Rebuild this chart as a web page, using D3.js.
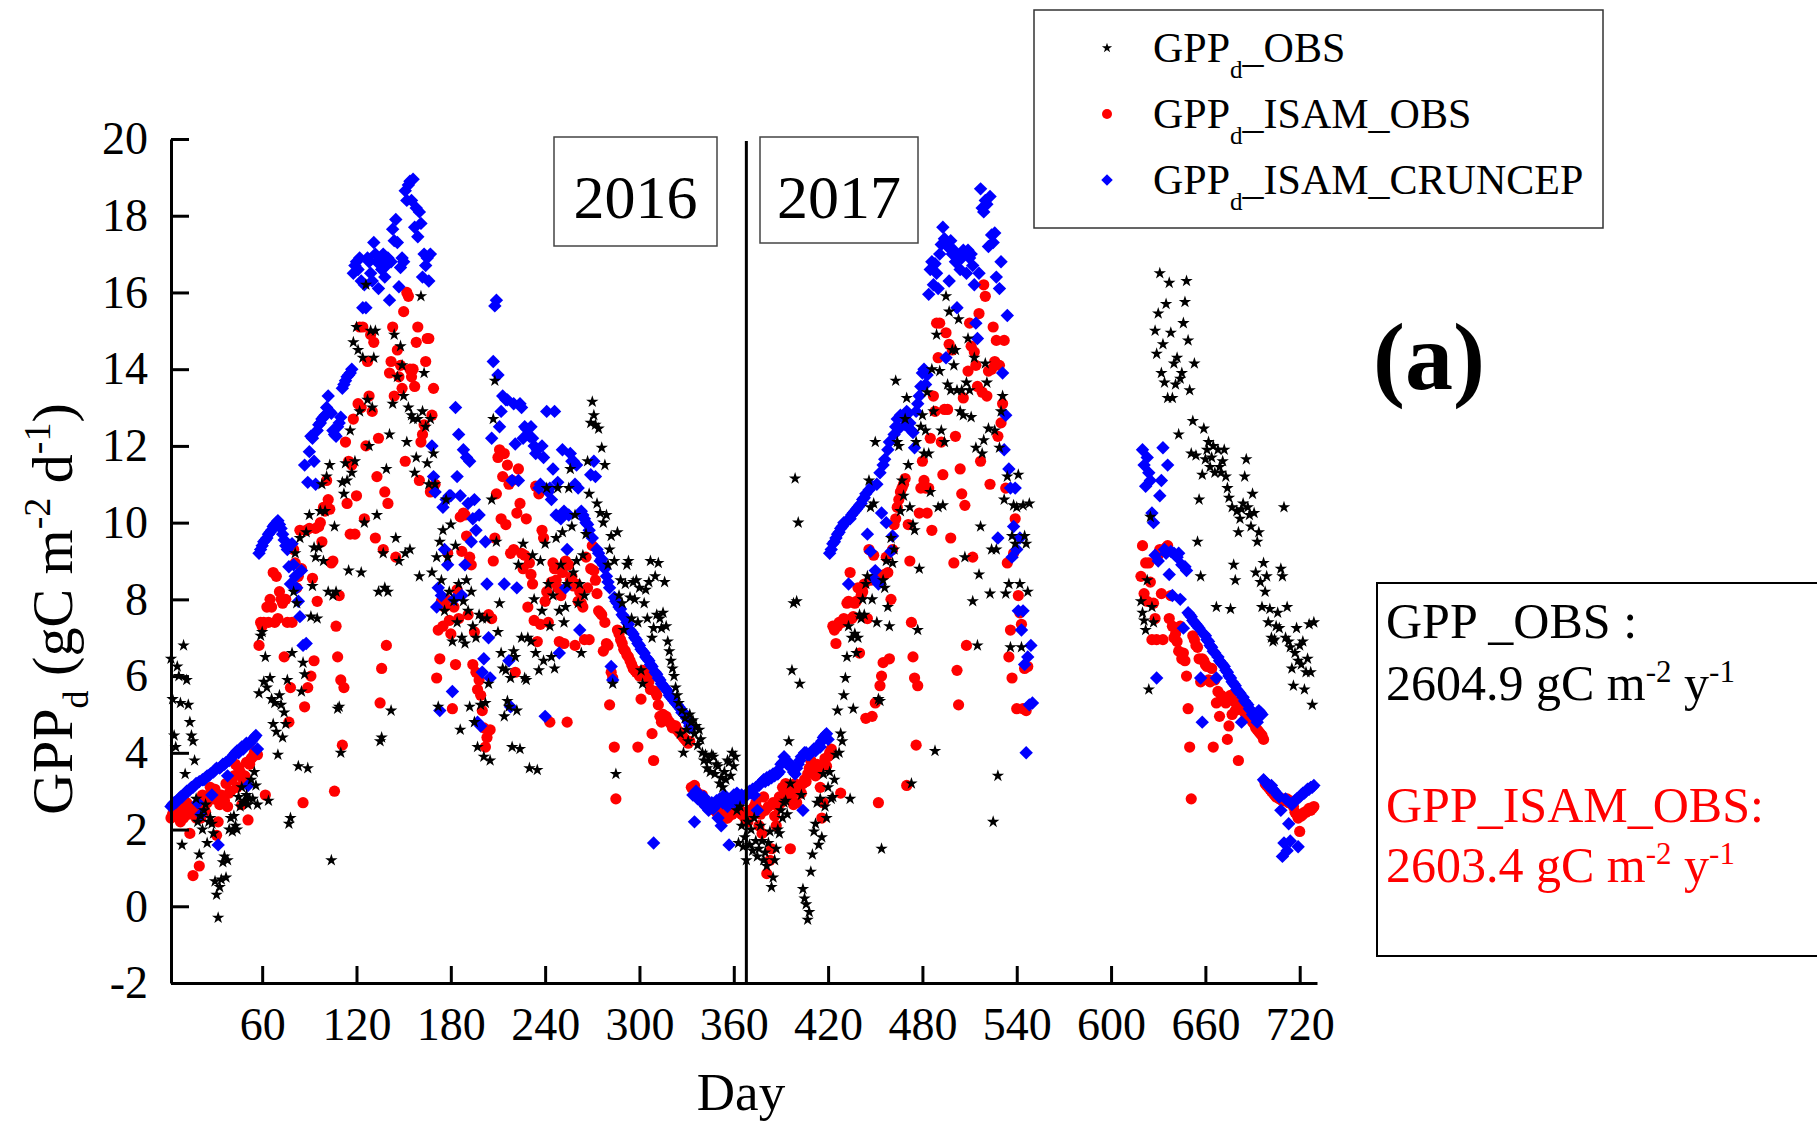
<!DOCTYPE html>
<html>
<head>
<meta charset="utf-8">
<script src="https://cdn.jsdelivr.net/npm/d3@7"></script>
<style>
  body { margin: 0; background: #fff; }
  svg { display: block; font-family: "Liberation Serif", "Times New Roman", serif; }
</style>
</head>
<body>
<div id="chart"></div>
<script>
// daily GPP values (gC m-2 d-1), each array starts at the day given in its *Start const
const obs2016Start = 2;
const obs2016 = [
  6.45, 5.4, 4.45, 4.15, 6.25, 6.0, 5.3, 1.6, 6.8, 3.45,
  5.9, 5.25, 4.8, 4.45, 4.3, 3.8, 2.8, 2.2, 1.35, 2.35,
  2.0, 2.5, 2.65, 1.65, 2.2, 2.3, 2.15, 1.9, 0.65, 0.3,
  -0.3, 0.5, 0.7, 1.15, 1.3, 0.75, 1.2, 2.0, 2.3, 1.95,
  2.35, 2.1, 2.0, 2.85, 2.6, 3.1, 2.7, 2.75, 2.9, 2.65,
  2.8, 3.3, 2.8, 3.5, 3.15, 2.65, 5.55, 7.05, 7.15, 5.85,
  6.5, 5.7, 2.75, 5.95, 5.4, 4.75, 5.3, 4.55, 3.95, 5.5,
  5.25, 4.4, 5.05, 4.75, 5.9, 2.15, 2.3, 6.6, 8.2, 9.2,
  7.9, 3.65, 9.6, 5.6, 6.35, 6.05, 9.75, 3.6, 10.2, 7.55,
  8.35, 9.35, 9.1, 7.5, 9.35, 10.3, 11.0, 9.0, 10.3, 11.2,
  8.2, 11.5, 1.2, 8.1, 9.9, 8.2, 5.15, 5.2, 4.0, 11.05,
  10.75, 11.55, 11.1, 8.75, 12.4, 11.3, 14.7, 11.6, 15.1, 14.5,
  12.9, 8.7, 14.3, 10.0, 16.2, 13.2, 12.0, 15.0, 13.0, 14.3,
  15.0, 10.2, 8.2, 4.3, 4.4, 9.2, 8.3, 11.4, 8.2, 12.3,
  5.1, 13.1, 14.9, 9.6, 13.8, 9.0, 14.6, 14.1, 13.3, 9.2,
  12.1, 13.0, 9.3, 12.8, 12.7, 11.3, 11.7, 12.7, 8.6, 15.9,
  12.9, 13.9, 12.5, 11.55, 11.0, 12.7, 8.7, 11.8, 11.0, 9.1,
  5.2, 9.5, 8.5, 9.8, 7.7, 10.6, 9.1, 8.2, 9.95, 6.9,
  7.95, 9.4, 7.4, 8.4, 4.6, 7.0, 7.95, 6.85, 8.5, 7.7,
  5.2, 8.2, 7.3, 4.8, 7.0, 4.15, 7.6, 5.25, 7.5, 3.9,
  5.3, 7.5, 5.8, 3.8, 10.6, 12.7, 13.7, 9.5, 7.15, 7.9,
  6.6, 6.2, 4.95, 6.15, 5.35, 5.2, 5.95, 4.15, 6.65, 6.5,
  5.1, 8.9, 4.1, 7.0, 9.45, 5.95, 5.9, 7.0, 3.6, 6.9,
  9.15, 8.0, 6.6, 3.55, 6.15, 9.0, 7.7, 6.4, 9.45, 10.9,
  8.4, 7.3, 6.5, 8.1, 6.2, 9.6, 10.9, 7.7, 8.9, 9.75,
  7.4, 7.8, 8.4, 10.9, 11.4, 9.9, 8.7, 10.2, 9.0, 7.9,
  8.4, 6.6, 9.15, 8.1, 9.7, 11.6, 10.75, 12.6, 13.15, 12.8,
  12.55, 10.5, 12.45, 10.25, 11.95, 10.0, 11.5, 10.2, 8.9, 9.3,
  9.65, 5.8, 9.0, 3.45, 9.75, 8.1, 8.5, 7.9, 7.2, 8.4,
  8.9, 9.0, 8.05, 7.5, 8.45, 8.0, 8.5, 7.4, 8.3, 6.15,
  5.8, 7.9, 8.25, 7.5, 8.45, 9.0, 7.0, 7.25, 8.6, 7.6,
  8.95, 7.5, 7.25, 7.65, 8.45, 7.3, 6.9, 6.65, 6.4, 6.2,
  6.0, 5.7, 5.5, 5.3, 4.5, 5.1, 4.0, 4.9, 4.6, 4.3,
  5.0, 4.8, 4.85, 4.5, 4.7, 4.2, 4.6, 4.35, 4.0, 3.8,
  3.95, 3.6, 3.8, 3.5, 3.95, 3.9, 3.45, 3.7, 3.65, 3.2,
  3.35, 3.1, 3.5, 3.3, 3.8, 3.75, 3.4, 4.0, 3.65, 3.9,
  2.5, 1.65, 2.6, 2.1, 1.55
];
const obs2017aStart = 367;
const obs2017a = [
  1.8, 1.2, 2.2, 1.6, 2.0, 1.45, 2.3, 1.7, 1.3, 1.5,
  2.1, 1.7, 1.2, 1.4, 1.05, 1.65, 1.95, 0.5, 0.75, 1.2,
  1.5, 2.0, 1.9, 2.5, 2.3, 2.7, 2.75, 2.4, 4.3, 3.2,
  6.15, 7.9, 11.15, 7.95, 10.0, 5.8, 2.9, 0.45, 0.2, 0.05,
  -0.35, -0.15, 0.9, 1.35, 1.95, 2.15, 2.7, 1.6, 2.8, 1.8,
  3.45, 2.6, 2.3, 3.1, 3.5, 2.8, 2.85, 3.3, 3.95, 5.1,
  4.0, 4.5, 4.3, 5.5, 5.95, 6.5, 7.3, 2.8, 7.0, 5.15,
  7.1, 6.6, 7.0, 7.6, 7.5, 8.0, 7.6, 8.4, 8.6, 11.1,
  10.4, 8.0, 10.5, 12.1, 7.4, 5.4, 5.35, 1.5, 8.5, 8.3,
  9.0, 7.8, 7.3, 9.6, 8.95, 9.3, 13.7, 12.1, 12.0, 10.3,
  11.1, 10.7, 12.7, 13.25, 11.5, 10.4, 3.2, 9.95, 9.8, 12.1,
  7.2, 8.8, 12.5, 12.8, 11.8, 12.4, 13.4, 11.8, 10.8, 14.0,
  12.9, 4.05, 14.9, 10.4, 13.95, 12.4, 10.45, 12.1, 15.9, 13.6,
  15.5, 13.45, 14.5, 14.1, 14.5, 13.45, 15.3, 12.9, 13.45, 12.8,
  9.1, 13.65, 14.8, 13.45, 12.75, 7.95, 14.3, 11.95, 6.8, 8.65,
  9.9, 11.8, 12.15, 14.15, 13.65, 12.45, 8.15, 9.3, 2.2, 12.4,
  9.3, 3.4, 11.95, 12.9, 13.3, 10.6, 8.15, 11.2, 8.4, 6.75,
  9.65, 10.45, 9.45, 10.4, 11.25, 8.4, 6.75, 10.45, 9.65, 9.45,
  8.2, 10.5
];
const obs2017bStart = 619;
const obs2017b = [
  7.95, 7.65, 7.45, 7.2, 8.5, 5.65, 10.15, 7.8, 7.4, 15.0,
  14.4, 15.45, 16.5, 13.9, 14.65, 13.65, 15.7, 13.25, 16.25, 14.95,
  13.25, 14.15, 13.6, 14.3, 12.3, 13.75, 13.9, 15.2, 15.75, 16.3,
  14.75, 13.45, 11.8, 12.65, 14.15, 11.75, 9.5, 10.6, 8.6, 11.25,
  12.45, 11.65, 11.9, 12.1, 11.45, 11.7, 12.0, 11.3, 7.8, 11.9,
  11.45, 11.3, 11.6, 11.9, 11.2, 10.9, 10.65, 7.75, 10.4, 8.9,
  8.5, 10.3, 9.75, 10.1, 10.35, 10.5, 11.2, 11.65, 10.4, 10.2,
  9.9, 10.75, 10.25, 8.7, 9.5, 9.75, 8.45, 7.8, 8.95, 8.2,
  8.6, 7.4, 7.75, 7.0, 6.9, 6.95, 7.3, 7.65, 7.25, 8.8,
  8.6, 10.4, 7.0, 7.8, 6.9, 6.75, 6.2, 5.75, 6.6, 7.25,
  6.4, 6.8, 6.3, 6.9, 5.65, 6.1, 6.45, 7.35, 6.1, 5.25, 7.4
];

const isam2016Start = 2;
const isam2016 = [
  2.3, 2.4, 2.5, 2.35, 2.6, 2.45, 2.2, 2.55, 2.3, 2.5,
  2.7, 2.4, 1.9, 2.6, 0.8, 2.45, 2.3, 2.65, 1.05, 2.3,
  2.9, 2.6, 2.45, 2.7, 2.9, 3.1, 3.0, 2.8, 3.05, 1.85,
  2.2, 2.65, 2.9, 2.7, 2.75, 3.2, 2.6, 2.95, 3.0, 3.3,
  3.4, 3.7, 3.1, 3.6, 3.5, 2.65, 3.3, 3.4, 3.75, 2.25,
  3.7, 3.85, 3.9, 4.0, 4.05, 3.95, 6.8, 7.4, 7.3, 7.4,
  2.9, 7.8, 7.4, 8.0, 7.8, 8.7, 7.4, 8.6, 7.5, 8.2,
  8.0, 7.9, 6.5, 8.0, 7.4, 4.8, 5.7, 7.4, 9.3, 8.95,
  8.3, 8.6, 9.8, 8.8, 2.7, 5.2, 9.8, 5.7, 9.85, 6.0,
  8.55, 6.4, 9.85, 7.95, 9.9, 10.0, 9.5, 10.4, 10.3, 11.1,
  10.6, 10.35, 8.95, 9.0, 3.0, 7.3, 6.5, 8.1, 5.9, 4.2,
  5.7, 12.1, 10.5, 11.6, 9.7, 11.5, 12.7, 9.7, 10.7, 13.1,
  15.1, 13.0, 15.1, 10.1, 12.0, 14.2, 13.3, 14.9, 12.9, 14.7,
  9.6, 11.2, 12.2, 5.3, 6.2, 9.3, 10.8, 6.8, 10.5, 13.9,
  14.2, 15.1, 13.3, 9.1, 14.5, 13.8, 14.1, 13.5, 15.5, 11.6,
  16.0, 15.9, 14.0, 13.8, 14.0, 13.55, 14.7, 15.1, 11.1, 12.1,
  12.3, 12.55, 14.2, 14.8, 14.8, 10.8, 12.8, 13.5, 11.0, 5.95,
  7.2, 6.45, 7.95, 7.3, 7.8, 8.0, 9.2, 7.45, 7.1, 5.15,
  7.8, 6.3, 8.25, 7.5, 10.15, 9.25, 10.25, 10.2, 9.65, 7.6,
  9.1, 8.9, 6.3, 7.15, 6.1, 5.65, 5.9, 5.5, 5.1, 4.65,
  4.15, 4.4, 7.6, 4.6, 7.5, 9.0, 9.6, 10.75, 11.7, 11.9,
  10.1, 11.2, 11.8, 9.95, 11.5, 11.0, 9.2, 11.1, 9.3, 6.1,
  10.25, 11.4, 10.5, 9.2, 8.8, 9.15, 10.1, 7.8, 8.95, 8.65,
  8.4, 7.45, 10.95, 6.9, 10.75, 7.35, 9.8, 9.6, 7.95, 8.2,
  7.4, 4.8, 8.45, 8.95, 8.8, 8.5, 8.3, 6.9, 8.1, 8.7,
  6.85, 9.0, 4.8, 8.9, 8.5, 8.6, 8.35, 6.8, 8.4, 7.95,
  8.2, 7.9, 7.8, 6.95, 9.1, 8.3, 6.95, 8.8, 9.4, 8.75,
  8.5, 8.15, 7.7, 7.65, 7.6, 6.65, 7.4, 6.85, 6.8, 5.25,
  6.1, 5.95, 4.15, 2.8, 7.2, 7.1, 6.95, 6.85, 6.7, 6.65,
  6.55, 6.5, 6.4, 6.3, 6.2, 6.15, 6.1, 4.15, 6.0, 5.4,
  6.15, 6.1, 6.05, 6.0, 5.85, 5.65, 4.5, 3.8, 5.6, 5.5,
  5.25, 4.95, 4.8, 5.0, 4.95, 4.95, 4.85, 4.8, 4.75, 4.65,
  4.7, 4.7, 4.6, 4.55, 4.5, 4.45, 4.4, 4.35, 4.3, 4.25,
  4.3, 3.1, 3.05, 3.15, 3.0, 2.95, 2.9, 2.85, 2.9, 2.8,
  2.75, 2.65, 2.7, 2.6, 2.55, 2.65, 2.5, 2.45, 2.55, 2.4,
  2.45, 2.35, 2.4, 2.3, 2.3, 2.35, 2.45, 2.4, 2.55, 2.5,
  2.6, 2.45, 2.5, 2.4, 2.45
];
const isam2017aStart = 367;
const isam2017a = [
  2.3, 2.4, 2.2, 2.5, 2.35, 2.45, 2.6, 2.7, 2.55, 2.1,
  2.4, 1.9, 2.85, 2.5, 0.85, 2.6, 1.2, 1.5, 2.7, 2.35,
  2.1, 2.6, 2.85, 2.7, 3.1, 2.9, 3.2, 2.8, 3.05, 1.5,
  2.9, 2.65, 3.2, 2.7, 3.0, 3.1, 2.95, 3.2, 3.3, 3.25,
  3.45, 3.6, 3.8, 3.5, 3.65, 3.4, 3.7, 3.6, 3.1, 2.3,
  2.7, 3.85, 3.65, 3.9, 4.0, 4.1, 7.3, 7.2, 6.85, 7.3,
  7.4, 2.95, 7.4, 7.5, 7.45, 7.9, 7.95, 8.7, 7.5, 7.55,
  7.9, 7.95, 8.3, 6.6, 8.1, 8.2, 8.4, 4.9, 7.5, 9.3,
  8.5, 4.95, 9.15, 5.3, 8.6, 2.7, 5.75, 6.0, 6.35, 8.65,
  9.1, 8.7, 6.45, 8.0, 9.3, 9.95, 10.1, 10.4, 10.6, 10.8,
  10.9, 11.0, 11.15, 3.15, 9.95, 9.0, 7.4, 6.5, 5.95, 4.2,
  5.75, 10.25, 10.9, 11.6, 11.1, 10.9, 10.25, 10.9, 12.2, 9.8,
  13.3, 12.9, 15.2, 14.3, 15.2, 12.1, 11.25, 12.95, 14.95, 12.95,
  14.65, 9.6, 14.5, 8.95, 12.25, 6.15, 5.25, 11.4, 10.75, 13.25,
  10.45, 6.8, 13.95, 15.2, 14.6, 9.1, 14.45, 14.1, 13.55, 15.45,
  11.6, 13.4, 16.2, 15.9, 13.3, 13.95, 11.0, 14.0, 15.1, 14.2,
  14.75, 12.25, 14.1, 12.6, 13.1, 14.75, 10.9, 8.95, 6.5, 7.2,
  5.95, 9.2, 10.1, 5.15, 8.1, 7.65, 7.35, 5.15, 6.2, 5.1,
  6.25
];
const isam2017bStart = 619;
const isam2017b = [
  8.6, 9.4, 8.15, 8.95, 7.95, 8.95, 8.45, 6.95, 7.9, 7.5,
  6.95, 9.15, 9.3, 8.15, 6.95, 9.3, 9.35, 9.4, 7.5, 8.1,
  7.3, 7.0, 7.1, 6.9, 6.65, 7.3, 6.45, 6.6, 6.4, 6.0,
  5.15, 4.15, 2.8, 7.05, 6.95, 6.8, 6.75, 6.45, 5.85, 6.45,
  6.4, 6.3, 6.25, 5.9, 5.85, 6.2, 4.15, 5.9, 5.3, 5.6,
  4.95, 5.5, 5.45, 5.4, 5.3, 4.35, 4.7, 5.5, 5.0, 5.35,
  5.1, 5.15, 3.8, 5.2, 5.15, 5.1, 5.05, 5.05, 5.0, 4.95,
  4.9, 4.8, 4.75, 4.65, 4.6, 4.55, 4.5, 4.45, 4.35, 3.2,
  3.15, 3.1, 3.05, 3.0, 2.95, 2.9, 2.85, 2.85, 2.8, 2.8,
  2.75, 2.8, 2.75, 2.8, 2.7, 2.75, 2.7, 2.6, 2.45, 2.4,
  2.3, 1.95, 2.35, 2.4, 2.45, 2.45, 2.5, 2.55, 2.5, 2.55, 2.6
];

const cru2016Start = 2;
const cru2016 = [
  2.6, 2.65, 2.7, 2.7, 2.75, 2.8, 2.85, 2.85, 2.9, 2.95,
  3.0, 3.0, 3.05, 3.1, 3.1, 3.15, 3.2, 2.7, 3.25, 2.4,
  3.3, 3.3, 3.35, 3.4, 3.4, 3.45, 2.9, 3.5, 3.55, 3.6,
  1.6, 3.6, 3.65, 3.7, 3.7, 3.75, 3.4, 3.8, 3.85, 3.9,
  3.95, 4.0, 4.05, 4.0, 4.1, 4.15, 4.1, 4.2, 4.25, 3.15,
  4.25, 4.3, 4.35, 4.4, 4.45, 4.1, 9.2, 9.3, 9.4, 9.5,
  9.55, 9.6, 9.7, 9.75, 9.8, 9.9, 9.95, 10.0, 10.05, 9.95,
  9.85, 9.7, 9.55, 9.4, 9.3, 8.85, 8.4, 9.45, 8.9, 8.6,
  8.3, 7.95, 7.55, 8.75, 6.8, 11.5, 6.85, 11.05, 11.85, 12.25,
  12.2, 11.6, 11.0, 12.4, 12.55, 12.6, 12.7, 12.75, 12.8, 13.0,
  13.3, 12.9, 12.85, 12.4, 12.3, 12.25, 12.5, 12.6, 12.75, 13.5,
  13.6, 13.7, 13.8, 13.85, 13.9, 14.0, 16.5, 16.7, 16.8, 16.6,
  16.9, 16.3, 15.6, 16.2, 15.6, 16.9, 16.8, 16.5, 16.3, 17.3,
  17.0, 16.8, 16.1, 16.8, 16.6, 17.0, 16.4, 16.7, 16.9, 15.8,
  16.8, 17.65, 17.35, 17.9, 17.3, 16.15, 16.65, 16.9, 16.8, 18.65,
  18.4, 18.8, 18.9, 18.4, 18.95, 17.7, 18.2, 17.45, 18.1, 17.8,
  16.4, 17.0, 16.7, 16.9, 16.3, 17.0, 12.0, 11.2, 10.8, 7.8,
  8.3, 5.1, 8.1, 10.4, 9.3, 10.6, 8.9, 10.7, 10.7, 5.6,
  8.0, 13.0, 11.2, 12.3, 10.7, 8.1, 11.9, 8.9, 11.7, 10.5,
  11.6, 9.5, 10.1, 10.6, 9.8, 4.8, 10.2, 4.7, 6.1, 6.45,
  9.5, 8.4, 7.0, 5.95, 12.2, 14.2, 15.65, 15.8, 13.85, 12.5,
  12.9, 13.3, 8.4, 13.2, 13.2, 6.4, 5.2, 11.1, 13.1, 12.05,
  8.3, 11.1, 13.1, 13.0, 12.2, 12.5, 12.45, 12.3, 12.25, 12.5,
  12.2, 12.0, 11.8, 11.9, 10.9, 11.0, 12.0, 11.7, 4.95, 12.9,
  10.8, 10.9, 10.6, 11.4, 12.9, 10.2, 11.05, 6.6, 10.1, 11.9,
  10.3, 8.3, 9.3, 10.2, 11.8, 11.6, 11.6, 11.0, 11.5, 10.9,
  7.2, 10.3, 10.2, 10.1, 10.0, 9.95, 9.8, 11.25, 9.6, 11.6,
  11.2, 9.3, 9.2, 9.0, 9.05, 8.9, 8.8, 8.6, 8.45, 8.3,
  6.25, 5.9, 8.05, 7.95, 7.9, 7.8, 7.75, 7.6, 7.55, 7.5,
  7.4, 7.35, 7.2, 7.15, 7.1, 7.0, 6.95, 6.85, 6.8, 6.7,
  6.65, 6.6, 6.5, 6.45, 6.4, 6.3, 6.25, 1.65, 6.1, 6.05,
  5.95, 5.9, 5.8, 5.75, 5.7, 5.65, 5.6, 5.5, 5.45, 5.4,
  5.35, 5.3, 5.25, 5.2, 5.15, 5.05, 5.05, 5.0, 4.9, 4.8,
  4.7, 4.65, 2.9, 2.2, 3.0, 2.8, 2.9, 2.75, 2.7, 2.85,
  2.6, 2.7, 2.5, 2.65, 2.7, 2.55, 2.6, 2.75, 2.3, 2.8,
  2.1, 2.7, 2.9, 2.8, 2.6, 1.6, 2.75, 2.8, 2.9, 2.7,
  2.95, 2.8, 2.85, 2.9, 2.8
];
const cru2017aStart = 367;
const cru2017a = [
  2.85, 2.9, 2.95, 3.0, 2.95, 3.05, 2.9, 3.1, 2.5, 3.15,
  3.2, 3.25, 3.3, 3.25, 3.35, 3.3, 3.4, 3.35, 3.45, 3.4,
  3.5, 3.45, 3.5, 3.7, 3.75, 3.9, 3.8, 3.7, 3.75, 3.65,
  3.6, 3.5, 3.45, 3.6, 3.7, 3.8, 3.9, 2.5, 4.0, 4.0,
  3.95, 3.95, 4.0, 4.05, 4.1, 4.05, 4.15, 4.2, 4.15, 4.3,
  4.4, 4.45, 4.5, 4.35, 9.2, 9.3, 9.45, 9.5, 9.6, 9.7,
  9.75, 9.85, 9.9, 10.0, 10.0, 10.05, 8.4, 10.1, 10.2, 10.25,
  10.3, 10.35, 10.4, 10.45, 10.5, 10.6, 10.65, 10.75, 9.7, 10.85,
  9.25, 10.95, 8.55, 8.75, 11.0, 8.4, 11.3, 10.25, 11.5, 11.65,
  10.0, 11.9, 12.1, 9.25, 9.65, 12.3, 12.5, 12.7, 12.45, 12.8,
  12.75, 12.8, 12.55, 12.9, 12.85, 12.6, 12.4, 12.35, 11.95, 12.9,
  13.1, 13.3, 13.55, 13.9, 14.0, 13.6, 13.85, 15.95, 16.6, 16.8,
  16.2, 16.75, 16.5, 16.1, 17.0, 17.25, 17.7, 17.4, 14.3, 17.2,
  16.3, 17.35, 17.0, 17.1, 16.8, 15.6, 16.95, 16.6, 16.9, 17.1,
  17.05, 16.5, 17.1, 16.9, 17.0, 16.7, 16.2, 15.2, 14.8, 16.5,
  18.7, 18.2, 18.1, 18.4, 18.3, 17.2, 18.5, 17.5, 17.3, 17.55,
  16.4, 9.6, 16.1, 16.8, 13.9, 11.9, 12.8, 15.4, 11.4, 10.9,
  9.1, 9.9, 10.9, 9.3, 7.7, 9.6, 7.2, 7.7, 6.3, 4.0,
  6.5, 5.25, 6.8, 5.3
];
const cru2017bStart = 620;
const cru2017b = [
  11.9, 11.5, 10.95, 11.7, 11.3, 11.1, 10.25, 10.0, 9.15, 5.95,
  9.0, 10.7, 11.1, 11.95, 9.3, 9.2, 11.5, 8.65, 9.25, 8.1,
  9.2, 9.15, 9.1, 9.2, 8.0, 8.9, 7.25, 8.85, 8.75, 7.65,
  7.6, 7.55, 7.45, 7.4, 7.35, 7.3, 7.25, 5.95, 4.8, 7.1,
  7.05, 6.95, 6.9, 6.8, 6.75, 6.65, 6.6, 5.95, 6.5, 6.4,
  6.35, 6.3, 6.25, 6.15, 6.1, 6.0, 5.95, 5.85, 5.8, 5.75,
  5.65, 5.6, 5.55, 4.8, 5.45, 5.35, 5.3, 5.25, 5.15, 5.1,
  5.0, 4.95, 4.9, 4.8, 5.1, 5.05, 5.0, 3.3, 3.25, 3.2,
  3.15, 3.1, 3.15, 3.05, 3.0, 2.95, 2.9, 2.85, 2.5, 1.3,
  1.65, 2.8, 1.45, 2.15, 1.7, 2.65, 2.7, 2.75, 2.8, 1.55,
  2.85, 2.9, 2.95, 2.95, 3.0, 3.05, 3.05, 3.1, 3.1, 3.15
];

const xTickValues = [60, 120, 180, 240, 300, 360, 420, 480, 540, 600, 660, 720];
const yTickValues = [-2, 0, 2, 4, 6, 8, 10, 12, 14, 16, 18, 20];
const yearDivider = 368;

const W = 1817;
const H = 1121;
const FONT = '"Liberation Serif", "Times New Roman", serif';

const toPoints = (start, values) =>
    values.map((v, i) => ({ day: start + i, value: v }));

const obsPoints = [
    ...toPoints(obs2016Start, obs2016),
    ...toPoints(obs2017aStart, obs2017a),
    ...toPoints(obs2017bStart, obs2017b)
];
const isamPoints = [
    ...toPoints(isam2016Start, isam2016),
    ...toPoints(isam2017aStart, isam2017a),
    ...toPoints(isam2017bStart, isam2017b)
];
const cruPoints = [
    ...toPoints(cru2016Start, cru2016),
    ...toPoints(cru2017aStart, cru2017a),
    ...toPoints(cru2017bStart, cru2017b)
];

const svg = d3
    .select('#chart')
    .append('svg')
    .attr('width', W)
    .attr('height', H)
    .attr('viewBox', `0 0 ${W} ${H}`);

svg.append('rect').attr('width', W).attr('height', H).attr('fill', '#fff');

// Scales
const x = d3.scaleLinear().domain([2, 731]).range([171, 1317]);
const y = d3.scaleLinear().domain([-2, 20]).range([983, 139]);

// Markers
const starPath = d3.symbol().type(d3.symbolStar).size(48)();
const diamondPath = d3.symbol().type(d3.symbolSquare).size(90)();
const dotRadius = 5.6;

const plot = svg.append('g');

plot.selectAll('.isam')
    .data(isamPoints)
    .join('circle')
    .attr('class', 'isam')
    .attr('cx', (d) => x(d.day))
    .attr('cy', (d) => y(d.value))
    .attr('r', dotRadius)
    .attr('fill', '#ff0000');

plot.selectAll('.cru')
    .data(cruPoints)
    .join('path')
    .attr('class', 'cru')
    .attr('d', diamondPath)
    .attr('transform', (d) => `translate(${x(d.day)},${y(d.value)}) rotate(45)`)
    .attr('fill', '#0000ff');

plot.selectAll('.obs')
    .data(obsPoints)
    .join('path')
    .attr('class', 'obs')
    .attr('d', starPath)
    .attr('transform', (d) => `translate(${x(d.day)},${y(d.value)})`)
    .attr('fill', '#000');

// Axes
const xAxis = d3.axisBottom(x)
    .tickValues(xTickValues)
    .tickFormat((d) => String(d))
    .tickSizeInner(-17)
    .tickSizeOuter(0)
    .tickPadding(24);
const yAxis = d3.axisLeft(y)
    .tickValues(yTickValues)
    .tickFormat((d) => String(d))
    .tickSizeInner(-18)
    .tickSizeOuter(0)
    .tickPadding(23);

const xAxisEl = svg.append('g')
    .attr('transform', `translate(0,${y(-2)})`)
    .call(xAxis);
const yAxisEl = svg.append('g')
    .attr('transform', `translate(${x(2)},0)`)
    .call(yAxis);

[xAxisEl, yAxisEl].forEach((el) => {
    el.select('.domain').attr('stroke', '#000').attr('stroke-width', 3);
    el.selectAll('.tick line').attr('stroke', '#000').attr('stroke-width', 3);
    el.selectAll('.tick text')
        .attr('fill', '#000')
        .style('font-family', FONT)
        .style('font-size', '46px');
});

// year divider
svg.append('line')
    .attr('x1', x(yearDivider))
    .attr('x2', x(yearDivider))
    .attr('y1', y(20) + 2)
    .attr('y2', y(-2))
    .attr('stroke', '#000')
    .attr('stroke-width', 3);

// year boxes
const yearBoxes = [
    { label: '2016', x0: 554, x1: 717, y0: 137, y1: 246 },
    { label: '2017', x0: 760, x1: 918, y0: 137, y1: 243 }
];
yearBoxes.forEach((b) => {
    svg.append('rect')
        .attr('x', b.x0)
        .attr('y', b.y0)
        .attr('width', b.x1 - b.x0)
        .attr('height', b.y1 - b.y0)
        .attr('fill', '#fff')
        .attr('stroke', '#444')
        .attr('stroke-width', 1.5);
    svg.append('text')
        .attr('x', (b.x0 + b.x1) / 2)
        .attr('y', 218)
        .attr('text-anchor', 'middle')
        .style('font-family', FONT)
        .style('font-size', '62px')
        .text(b.label);
});

// axis titles
const yTitle = svg.append('text')
    .attr('transform', 'translate(72,609) rotate(-90)')
    .attr('text-anchor', 'middle')
    .style('font-family', FONT)
    .style('font-size', '58px');
yTitle.append('tspan').text('GPP');
yTitle.append('tspan').attr('dy', 16).style('font-size', '36px').text('d');
yTitle.append('tspan').attr('dy', -16).text(' (gC m');
yTitle.append('tspan').attr('dy', -22).style('font-size', '38px').text('-2');
yTitle.append('tspan').attr('dy', 22).text(' d');
yTitle.append('tspan').attr('dy', -22).style('font-size', '38px').text('-1');
yTitle.append('tspan').attr('dy', 22).text(')');

svg.append('text')
    .attr('x', 741)
    .attr('y', 1110)
    .attr('text-anchor', 'middle')
    .style('font-family', FONT)
    .style('font-size', '53px')
    .text('Day');

// legend
const legend = svg.append('g');
legend.append('rect')
    .attr('x', 1034)
    .attr('y', 10)
    .attr('width', 569)
    .attr('height', 218)
    .attr('fill', '#fff')
    .attr('stroke', '#333')
    .attr('stroke-width', 1.5);

const legendRows = [
    { tail: '_OBS', baseline: 62, kind: 'obs' },
    { tail: '_ISAM_OBS', baseline: 128, kind: 'isam' },
    { tail: '_ISAM_CRUNCEP', baseline: 194, kind: 'cru' }
];
legendRows.forEach((r) => {
    const cy = r.baseline - 14;
    if (r.kind === 'obs') {
        legend.append('path').attr('d', d3.symbol().type(d3.symbolStar).size(32)())
            .attr('transform', `translate(1107,${cy})`).attr('fill', '#000');
    } else if (r.kind === 'isam') {
        legend.append('circle').attr('cx', 1107).attr('cy', cy).attr('r', 5).attr('fill', '#ff0000');
    } else {
        legend.append('path').attr('d', d3.symbol().type(d3.symbolSquare).size(66)())
            .attr('transform', `translate(1107,${cy}) rotate(45)`).attr('fill', '#0000ff');
    }
    const t = legend.append('text')
        .attr('x', 1153)
        .attr('y', r.baseline)
        .style('font-family', FONT)
        .style('font-size', '42px');
    t.append('tspan').text('GPP');
    t.append('tspan').attr('dy', 16).style('font-size', '25px').text('d');
    t.append('tspan').attr('dy', -16).text(r.tail);
});

// panel label
svg.append('text')
    .attr('x', 1373)
    .attr('y', 389)
    .style('font-family', FONT)
    .style('font-size', '96px')
    .style('font-weight', 'bold')
    .text('(a)');

// annual totals box
svg.append('rect')
    .attr('x', 1377)
    .attr('y', 583)
    .attr('width', 500)
    .attr('height', 373)
    .attr('fill', 'none')
    .attr('stroke', '#000')
    .attr('stroke-width', 2);

const totals = [
    { head: 'GPP _OBS :', value: '2604.9', color: '#000', y0: 638, y1: 700 },
    { head: 'GPP_ISAM_OBS:', value: '2603.4', color: '#ff0000', y0: 822, y1: 882 }
];
totals.forEach((t) => {
    svg.append('text')
        .attr('x', 1386)
        .attr('y', t.y0)
        .attr('fill', t.color)
        .style('font-family', FONT)
        .style('font-size', '50px')
        .text(t.head);
    const line = svg.append('text')
        .attr('x', 1386)
        .attr('y', t.y1)
        .attr('fill', t.color)
        .style('font-family', FONT)
        .style('font-size', '50px');
    line.append('tspan').text(`${t.value} gC m`);
    line.append('tspan').attr('dy', -18).style('font-size', '31px').text('-2');
    line.append('tspan').attr('dy', 18).text(' y');
    line.append('tspan').attr('dy', -18).style('font-size', '31px').text('-1');
});
</script>
</body>
</html>
